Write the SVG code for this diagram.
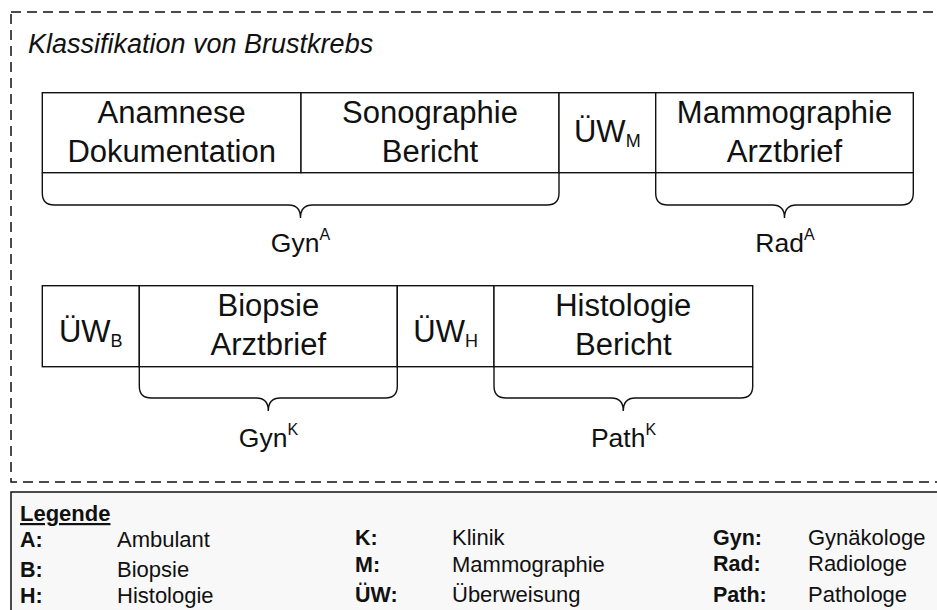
<svg xmlns="http://www.w3.org/2000/svg" width="937" height="610" viewBox="0 0 937 610">
  <style>
    text { font-family: "Liberation Sans", Arial, Helvetica, sans-serif; fill: #111; }
    .cell { fill: #fff; stroke: #111; stroke-width: 1.4; }
    .big { font-size: 31px; text-anchor: middle; }
    .sub { font-size: 18px; }
    .lbl { font-size: 26.5px; text-anchor: middle; }
    .sup { font-size: 16px; }
    .brace { fill: none; stroke: #111; stroke-width: 1.4; }
    .key { font-size: 21.5px; font-weight: bold; }
    .val { font-size: 22px; }
  </style>

  <!-- dashed frame around the classification -->
  <rect x="11" y="12" width="960" height="470" fill="#fff" stroke="#111" stroke-width="1.5" stroke-dasharray="10,6"/>
  <text x="28" y="53" font-size="27" font-style="italic">Klassifikation von Brustkrebs</text>

  <!-- row 1 -->
  <g id="anamnese">
    <rect class="cell" x="42.3" y="92.7" width="258.7" height="80"/>
    <text class="big" x="171.7" y="123">Anamnese</text>
    <text class="big" x="171.7" y="162">Dokumentation</text>
  </g>
  <g id="sonographie">
    <rect class="cell" x="301" y="92.7" width="258" height="80"/>
    <text class="big" x="430" y="123">Sonographie</text>
    <text class="big" x="430" y="162">Bericht</text>
  </g>
  <g id="uew-m">
    <rect class="cell" x="559" y="92.7" width="96.7" height="80"/>
    <text class="big" x="607.3" y="142">ÜW<tspan class="sub" dy="5">M</tspan></text>
  </g>
  <g id="mammographie">
    <rect class="cell" x="655.7" y="92.7" width="257.6" height="80"/>
    <text class="big" x="784.5" y="123">Mammographie</text>
    <text class="big" x="784.5" y="162">Arztbrief</text>
  </g>

  <!-- row 2 -->
  <g id="uew-b">
    <rect class="cell" x="42.3" y="285.7" width="97" height="81"/>
    <text class="big" x="90.8" y="342">ÜW<tspan class="sub" dy="5">B</tspan></text>
  </g>
  <g id="biopsie">
    <rect class="cell" x="139.3" y="285.7" width="258" height="81"/>
    <text class="big" x="268.3" y="316">Biopsie</text>
    <text class="big" x="268.3" y="355">Arztbrief</text>
  </g>
  <g id="uew-h">
    <rect class="cell" x="397.3" y="285.7" width="96.7" height="81"/>
    <text class="big" x="445.7" y="342">ÜW<tspan class="sub" dy="5">H</tspan></text>
  </g>
  <g id="histologie">
    <rect class="cell" x="494" y="285.7" width="258.7" height="81"/>
    <text class="big" x="623.3" y="316">Histologie</text>
    <text class="big" x="623.3" y="355">Bericht</text>
  </g>

  <!-- braces grouping cells by author -->
  <g id="braces">
    <path class="brace" d="M42.3,172.7 V193 Q42.3,205 54.3,205 H288.5 Q300.5,205 300.5,218 Q300.5,205 312.5,205 H547 Q559,205 559,193 V172.7"/>
    <path class="brace" d="M655.7,172.7 V193 Q655.7,205 667.7,205 H772.5 Q784.5,205 784.5,218 Q784.5,205 796.5,205 H901.3 Q913.3,205 913.3,193 V172.7"/>
    <path class="brace" d="M139.3,366.7 V386 Q139.3,398 151.3,398 H256.3 Q268.3,398 268.3,411 Q268.3,398 280.3,398 H385.3 Q397.3,398 397.3,386 V366.7"/>
    <path class="brace" d="M494,366.7 V386 Q494,398 506,398 H611.3 Q623.3,398 623.3,411 Q623.3,398 635.3,398 H740.7 Q752.7,398 752.7,386 V366.7"/>
  </g>

  <g id="gyn-a"><text class="lbl" x="300.5" y="252">Gyn<tspan class="sup" dy="-12">A</tspan></text></g>
  <g id="rad-a"><text class="lbl" x="785" y="252">Rad<tspan class="sup" dy="-12">A</tspan></text></g>
  <g id="gyn-k"><text class="lbl" x="268.5" y="447">Gyn<tspan class="sup" dy="-12">K</tspan></text></g>
  <g id="path-k"><text class="lbl" x="623.5" y="447">Path<tspan class="sup" dy="-12">K</tspan></text></g>

  <!-- legend -->
  <g id="legend">
    <rect x="11" y="492" width="960" height="130" fill="#f8f8f8" stroke="#111" stroke-width="1.5"/>
    <text x="20" y="521" font-size="22" font-weight="bold" text-decoration="underline">Legende</text>
    <text class="key" x="20" y="547">A:</text>
    <text class="val" x="117" y="547">Ambulant</text>
    <text class="key" x="20" y="577">B:</text>
    <text class="val" x="117" y="577">Biopsie</text>
    <text class="key" x="20" y="603">H:</text>
    <text class="val" x="117" y="603">Histologie</text>

    <text class="key" x="355" y="545">K:</text>
    <text class="val" x="452" y="545">Klinik</text>
    <text class="key" x="355" y="572">M:</text>
    <text class="val" x="452" y="572">Mammographie</text>
    <text class="key" x="355" y="602">ÜW:</text>
    <text class="val" x="452" y="602">Überweisung</text>

    <text class="key" x="713" y="545">Gyn:</text>
    <text class="val" x="808" y="545">Gynäkologe</text>
    <text class="key" x="713" y="571">Rad:</text>
    <text class="val" x="808" y="571">Radiologe</text>
    <text class="key" x="713" y="602">Path:</text>
    <text class="val" x="808" y="602">Pathologe</text>
  </g>
</svg>
